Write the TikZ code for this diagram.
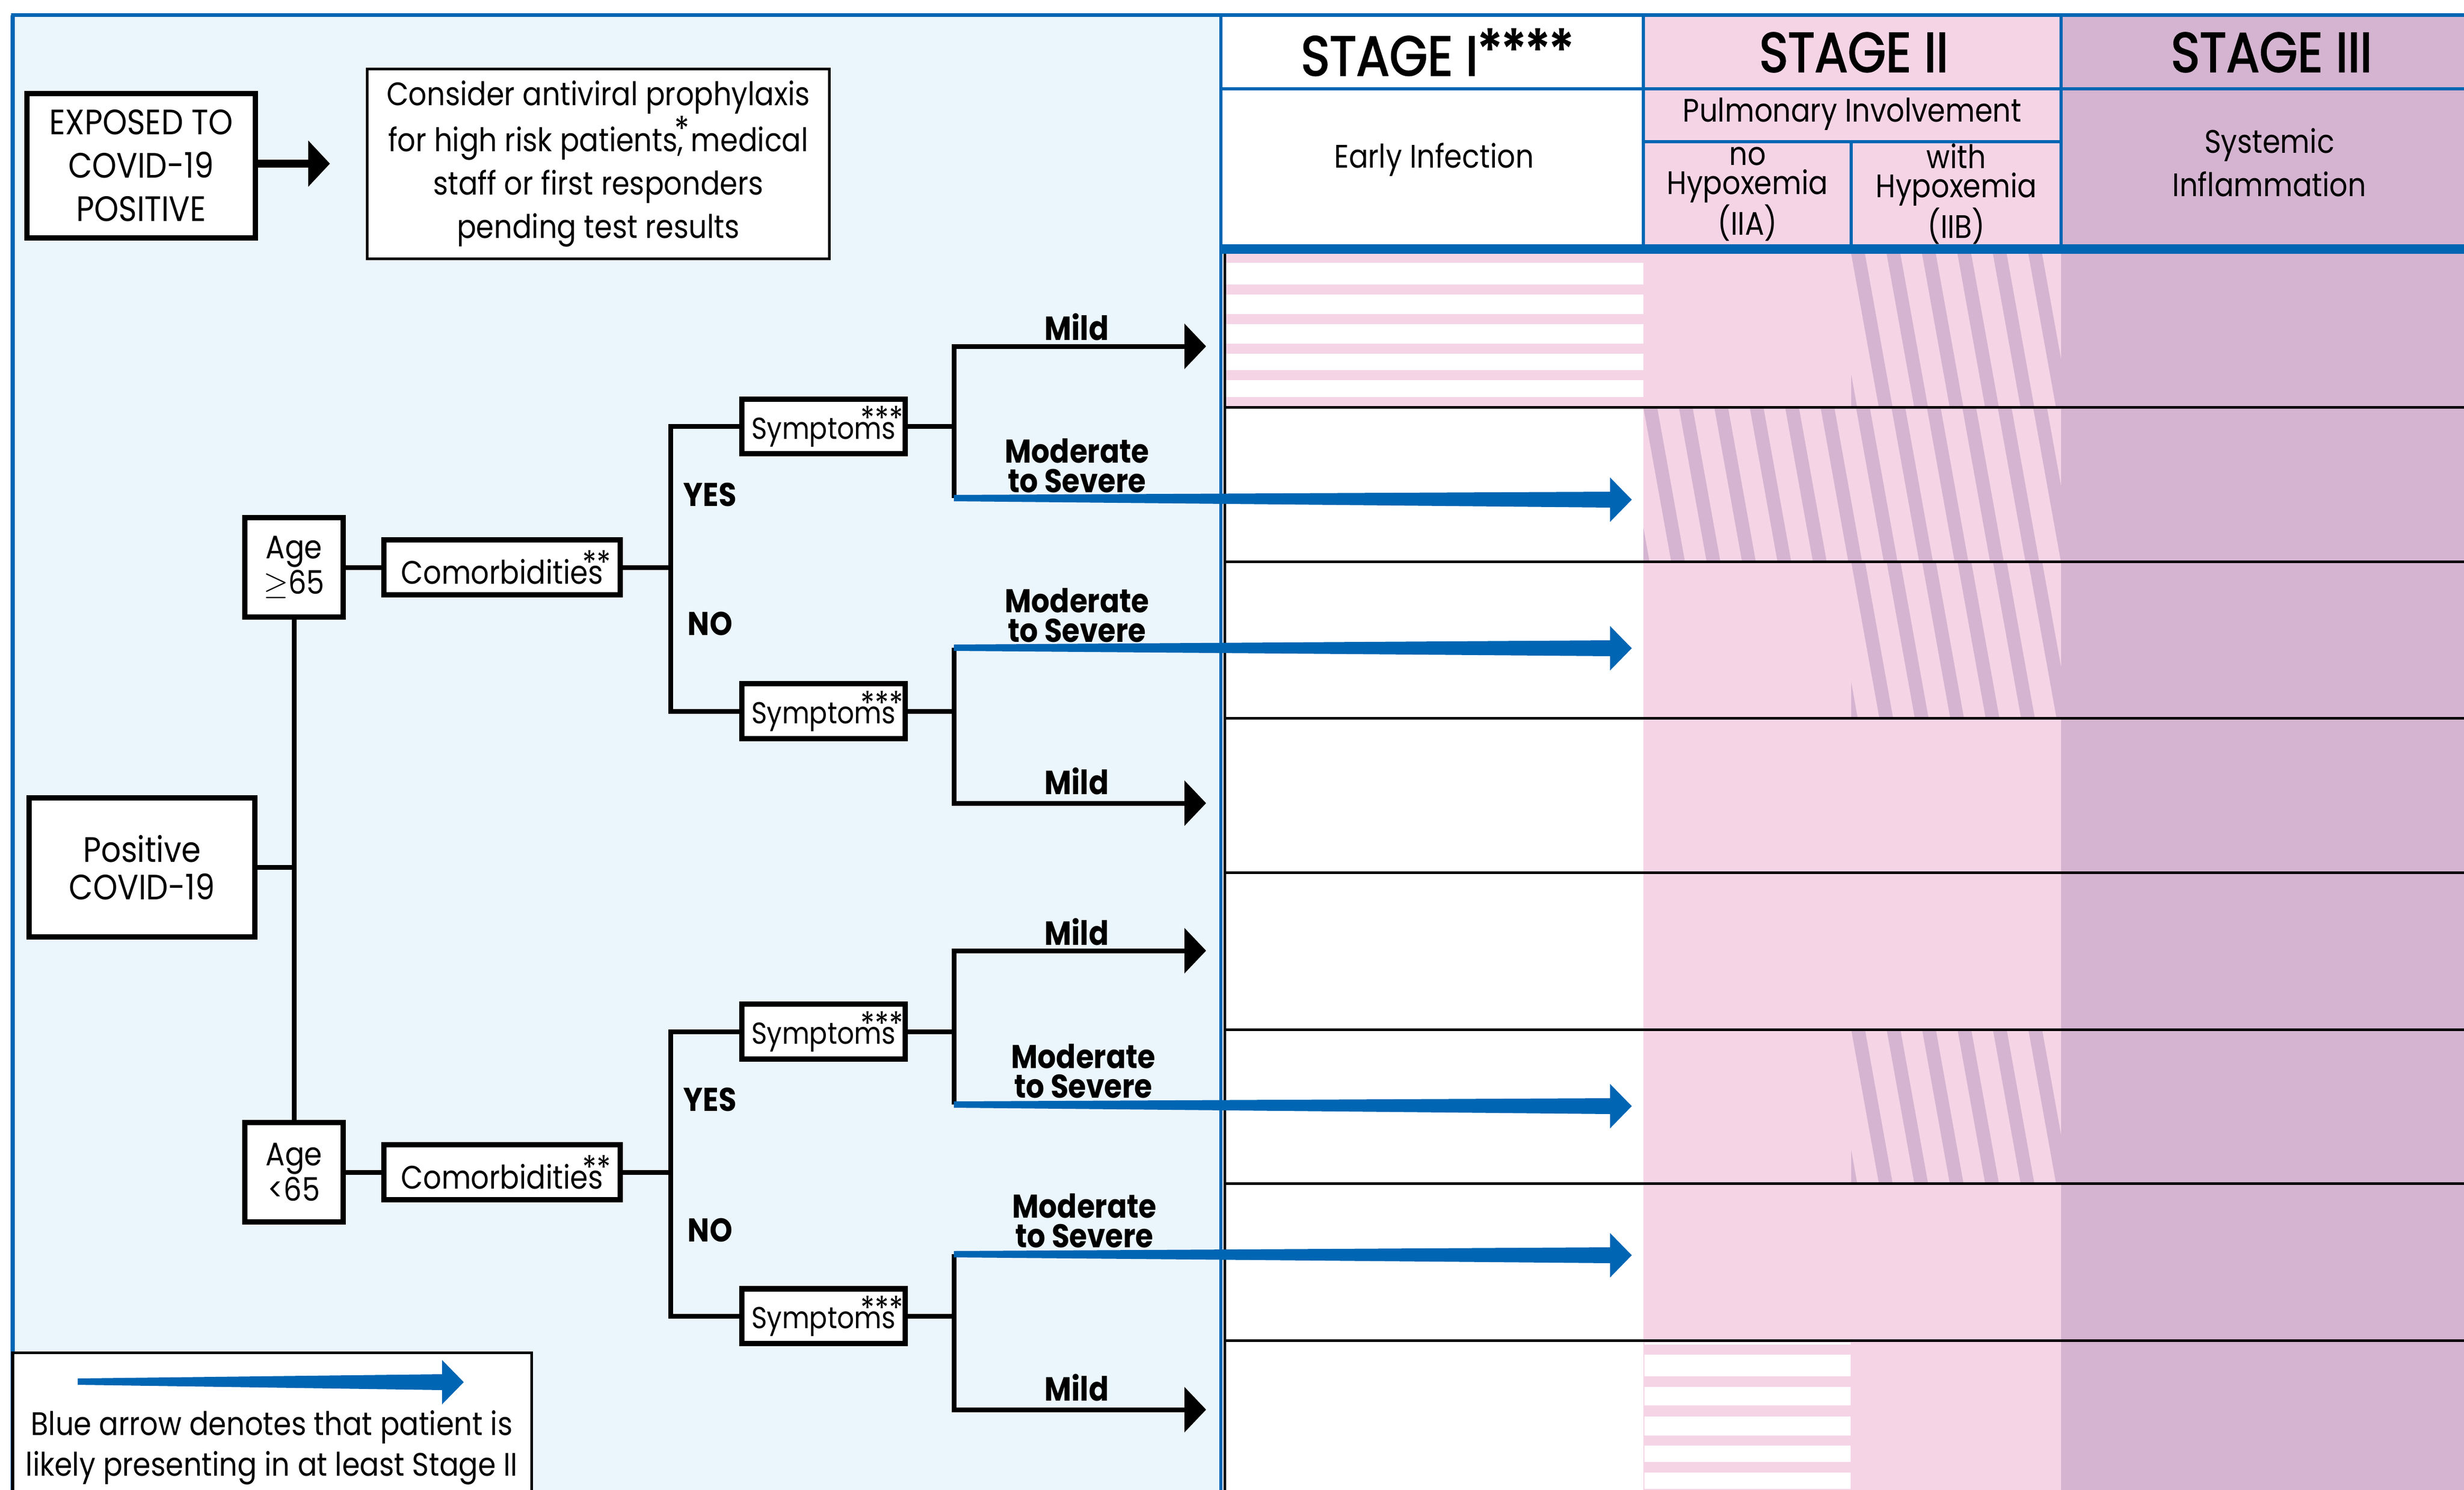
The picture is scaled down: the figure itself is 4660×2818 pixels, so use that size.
\documentclass[tikz,border=0pt]{standalone}
\usepackage{fontspec}
\setmainfont[FakeStretch=0.88]{Poppins}
\newfontfamily\stagefont[FakeStretch=0.88,FakeBold=2.2]{Poppins}
\usetikzlibrary{arrows.meta,calc}

\definecolor{panelblue}{RGB}{235,245,252}
\definecolor{linkblue}{RGB}{0,102,179}
\definecolor{stagepink}{RGB}{245,212,230}
\definecolor{stagepurple}{RGB}{212,180,208}

\newcommand{\fsreg}{\fontsize{17.5}{23.3}\selectfont}
\newcommand{\fsstage}{\fontsize{30}{30}\selectfont\stagefont}
\newcommand{\fslbl}{\fontsize{17.7}{16}\selectfont\bfseries}
% stars laid over the end of a word
\newcommand{\starmark}[2][6pt]{\rlap{\kern-#1\raisebox{0.27em}{\fontsize{18}{18}\selectfont #2}}}
% tapered blue arrow from #1 to tip #2
\newcommand{\wedgearrow}[2]{%
  \fill[linkblue] ($(#1)+(0,-6)$) -- ($(#2)+(-41,-15)$) -- ($(#2)+(-41,-42)$) -- (#2)
    -- ($(#2)+(-41,42)$) -- ($(#2)+(-41,15)$) -- ($(#1)+(0,6)$) -- cycle;}

\begin{document}
\begin{tikzpicture}[x=0.01cm, y=-0.01cm,
	box/.style={draw, line width=0.1cm, fill=white, inner sep=0pt, align=center, font=\fsreg},
	thinbox/.style={box, line width=0.05cm},
	symbox/.style={box, minimum width=3.09cm, minimum height=1.03cm, font={\fontsize{16.3}{20}\selectfont}},
	conn/.style={line width=0.09cm},
	mildarrow/.style={conn, -{Triangle[length=0.41cm,width=0.84cm]}},
	lbl/.style={font=\fslbl, align=center, inner sep=0pt},
	tabtxt/.style={font=\fsreg, align=center, inner sep=0pt},
	stagetxt/.style={font=\fsstage, inner sep=0pt},
	rowline/.style={line width=0.05cm},
	blueline/.style={linkblue, line width=0.055cm}]
	\useasboundingbox (0,0) rectangle (4660,2818);

	% backgrounds
	\fill[white] (0,0) rectangle (4660,2818);
	\fill[panelblue] (24,29) rectangle (2309,2818);
	\fill[stagepink] (3108,29) rectangle (3898,2818);
	\fill[stagepurple] (3898,29) rectangle (4660,2818);

	% striped cells
	\foreach \y in {478,538,594,650,700,751}
		\fill[stagepink] (2316,\y) rectangle (3108,\y+19);
	\foreach \y/\h in {2539/4,2562/41,2623/35,2679/36,2734/31,2785/31}
		\fill[white] (3110,\y) rectangle (3500,\y+\h);
	\foreach \xa/\ya/\xb/\yb in {3501/480/3898/770, 3108/770/3898/1062, 3501/1062/3898/1358, 3501/1947/3898/2238} {
		\begin{scope}
			\clip (\xa,\ya) rectangle (\xb,\yb);
			\foreach \s in {-1,...,12}
				\fill[stagepurple] ({\xa+67*\s},\ya) -- ++(26,0) -- ++({0.18*(\yb-\ya)},{\yb-\ya}) -- ++(-26,0) -- cycle;
		\end{scope}
	}

	% frame and table lines
	\draw[linkblue, line width=0.07cm] (24,29) -- (24,2818);
	\draw[linkblue, line width=0.07cm] (20.5,29) -- (4660,29);
	\draw[linkblue, line width=0.06cm] (2309,29) -- (2309,2818);
	\draw[blueline] (2309,168) -- (4660,168);
	\draw[blueline] (3108,268) -- (3898,268);
	\draw[blueline] (3108,29) -- (3108,471);
	\draw[blueline] (3898,29) -- (3898,471);
	\draw[blueline] (3501,268) -- (3501,471);
	\draw[linkblue, line width=0.18cm] (2309,471) -- (4660,471);
	\draw[rowline] (2316,480) -- (2316,2818);
	\foreach \y in {770,1062,1358,1650,1947,2238,2535}
		\draw[rowline] (2316,\y) -- (4660,\y);

	% table header
	\node[stagetxt] (stageone) at (2718,99) {STAGE I\raisebox{0.1em}{****}};
	\node[stagetxt] (stagetwo) at (3506,99) {STAGE II};
	\node[stagetxt] (stagethree) at (4296,99) {STAGE III};
	\node[tabtxt] (early) at (2712,302) {Early Infection};
	\node[tabtxt] (pulm) at (3503,216) {Pulmonary Involvement};
	\node[tabtxt, font={\fontsize{17.5}{15.6}\selectfont}] (nohyp) at (3305,367) {no\\Hypoxemia\\(IIA)};
	\node[tabtxt, font={\fontsize{17.5}{15.6}\selectfont}] (withhyp) at (3700,367) {with\\Hypoxemia\\(IIB)};
	\node[tabtxt] (systemic) at (4292,307) {Systemic\\Inflammation};

	% exposure
	\node[box, minimum width=4.32cm, minimum height=2.73cm, font={\fontsize{19}{23.3}\selectfont}] (exposed) at (267,313.5) {EXPOSED TO\\COVID-19\\POSITIVE};
	\node[thinbox, minimum width=8.74cm, minimum height=3.59cm] (consider) at (1131.5,310)
		{Consider antiviral prophylaxis\\for high risk patients\rlap{\kern-0.1em\raisebox{0.3em}{\fontsize{19}{19}\selectfont *}}, medical\\staff or first responders\\pending test results};
	\coordinate (gotip) at (624,309.5);
	\draw[line width=0.15cm, -{Triangle[length=0.41cm,width=0.85cm]}] (exposed.east |- gotip) -- (gotip);

	% decision tree
	\node[box, minimum width=4.27cm, minimum height=2.63cm, font={\fontsize{19}{20.2}\selectfont}] (positive) at (268.5,1640.5) {Positive\\COVID-19};
	\node[box, minimum width=1.86cm, minimum height=1.88cm, font={\fontsize{17.5}{19}\selectfont}] (age65) at (556,1073) {Age\\$\geq$65};
	\node[box, minimum width=1.86cm, minimum height=1.88cm, font={\fontsize{17.5}{19}\selectfont}] (ageyoung) at (556,2217) {Age\\<65};
	\node[box, minimum width=4.47cm, minimum height=1.04cm] (comorbA) at (949.5,1073) {Comorbidities\starmark[11pt]{**}};
	\node[box, minimum width=4.47cm, minimum height=1.04cm] (comorbB) at (949.5,2217) {Comorbidities\starmark[11pt]{**}};
	\node[symbox] (symA1) at (1557.5,806.5) {Symptoms\starmark[19pt]{***}};
	\node[symbox] (symA2) at (1557.5,1345) {Symptoms\starmark[19pt]{***}};
	\node[symbox] (symB1) at (1557.5,1951) {Symptoms\starmark[19pt]{***}};
	\node[symbox] (symB2) at (1557.5,2489) {Symptoms\starmark[19pt]{***}};

	\draw[conn] (positive) -- (positive -| age65);
	\draw[conn] (age65) -- (ageyoung);
	\draw[conn] (age65) -- (comorbA);
	\draw[conn] (ageyoung) -- (comorbB);

	\coordinate (jA) at (1268,1073);
	\coordinate (jB) at (1268,2217);
	\draw[conn] (comorbA) -- (jA);
	\draw[conn] (comorbB) -- (jB);
	\draw[conn] (symA1) -| (jA) |- (symA2);
	\draw[conn] (symB1) -| (jB) |- (symB2);
	\node[lbl] (yesA) at (1343,936) {YES};
	\node[lbl] (noA) at (1343,1180) {NO};
	\node[lbl] (yesB) at (1343,2080) {YES};
	\node[lbl] (noB) at (1343,2327) {NO};

	% outcomes
	\coordinate (modA1) at (1804,942);  \coordinate (mildA1) at (2281,655);
	\coordinate (modA2) at (1804,1225); \coordinate (mildA2) at (2281,1519);
	\coordinate (modB1) at (1804,2089); \coordinate (mildB1) at (2281,1798);
	\coordinate (modB2) at (1804,2372); \coordinate (mildB2) at (2281,2666);
	\foreach \s/\k in {symA1/A1, symA2/A2, symB1/B1, symB2/B2} {
		\draw[conn] (\s) -- (\s -| mod\k);
		\draw[mildarrow] (mod\k) |- (mild\k);
	}
	\node[lbl, font={\fontsize{18}{18}\selectfont\bfseries}] (mildlA1) at (2036,618) {Mild};
	\node[lbl, font={\fontsize{18}{18}\selectfont\bfseries}] (mildlA2) at (2036,1477) {Mild};
	\node[lbl, font={\fontsize{18}{18}\selectfont\bfseries}] (mildlB1) at (2036,1762) {Mild};
	\node[lbl, font={\fontsize{18}{18}\selectfont\bfseries}] (mildlB2) at (2036,2624) {Mild};
	\node[lbl] (modlA1) at (2037,881) {Moderate\\to Severe};
	\node[lbl] (modlA2) at (2037,1164) {Moderate\\to Severe};
	\node[lbl] (modlB1) at (2049,2026) {Moderate\\to Severe};
	\node[lbl] (modlB2) at (2051,2309) {Moderate\\to Severe};

	\coordinate (tipA1) at (3086,945);
	\coordinate (tipA2) at (3086,1226);
	\coordinate (tipB1) at (3086,2092);
	\coordinate (tipB2) at (3086,2374);
	\wedgearrow{modA1}{tipA1}
	\wedgearrow{modA2}{tipA2}
	\wedgearrow{modB1}{tipB1}
	\wedgearrow{modB2}{tipB2}

	% legend
	\draw[line width=0.05cm, fill=white] (24,2558) rectangle (1005,2860);
	\coordinate (legstart) at (147,2613);
	\coordinate (legtip) at (877,2614);
	\wedgearrow{legstart}{legtip}
	\node[tabtxt, font={\fontsize{17.5}{21.9}\selectfont}] (legend) at (514,2738) {Blue arrow denotes that patient is\\likely presenting in at least Stage II};
\end{tikzpicture}
\end{document}
